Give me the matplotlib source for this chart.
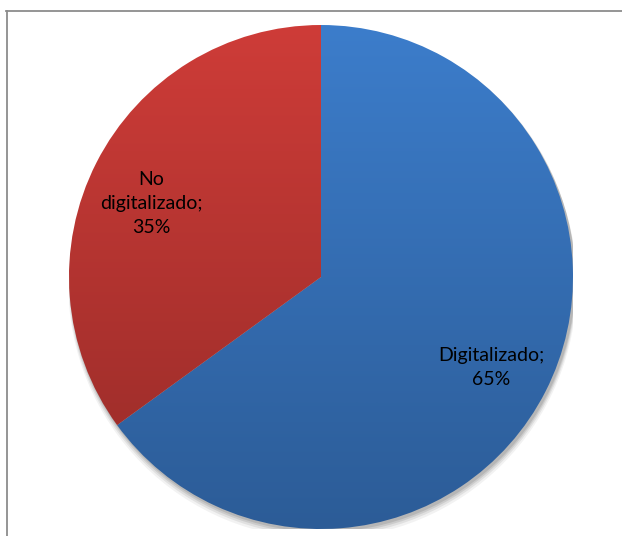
import numpy as np
import matplotlib
matplotlib.use("Agg")
import matplotlib.pyplot as plt
from matplotlib.patches import Circle
from matplotlib.colors import LinearSegmentedColormap
from matplotlib.lines import Line2D

categories = ["Digitalizado", "No digitalizado"]
values = [65, 35]
label_texts = ["Digitalizado;\n65%", "No\ndigitalizado;\n35%"]
top_colors = ["#3C7DCB", "#CE3C38"]
bottom_colors = ["#2C5C97", "#962B28"]

plt.rcParams['font.family'] = ['Lato', 'DejaVu Sans']

W, H = 622, 536
fig = plt.figure(figsize=(W / 100, H / 100), dpi=100)
fig.patch.set_facecolor("white")

# border lines (top and left only)
fig.add_artist(Line2D([6 / W, 1], [1 - 10.5 / H, 1 - 10.5 / H], color="#8C8C8C", lw=1.3))
fig.add_artist(Line2D([6.5 / W, 6.5 / W], [0, 1 - 10.5 / H], color="#8C8C8C", lw=1.3))

cx, cy, r = 321, 277, 252
ax = fig.add_axes([(cx - r) / W, (H - cy - r) / H, 2 * r / W, 2 * r / H])
ax.set_xlim(-1, 1)
ax.set_ylim(-1, 1)
ax.set_aspect("equal")
ax.axis("off")

# soft shadow
for off, a in [(0.030, 0.05), (0.022, 0.07), (0.015, 0.09), (0.009, 0.10)]:
    ax.add_patch(Circle((0.006, -off), 1.0 + off * 0.3, color="black", alpha=a, lw=0, zorder=0))

wedges, texts = ax.pie(values, startangle=90, counterclock=False, radius=1.0,
                       labels=label_texts, labeldistance=0.76,
                       wedgeprops=dict(linewidth=0),
                       textprops=dict(fontsize=14, ha="center", va="center", color="black",
                                      linespacing=1.5))

# label placement (distance from centre, angle offset in degrees)
label_place = [(0.765, -1.0), (0.735, 3.5)]
for w, t, (d, da) in zip(wedges, texts, label_place):
    ang = np.deg2rad((w.theta1 + w.theta2) / 2 + da)
    t.set_position((d * np.cos(ang), d * np.sin(ang)))
    t.set_zorder(5)

grad = np.linspace(0, 1, 256).reshape(-1, 1)
for w, ct, cb in zip(wedges, top_colors, bottom_colors):
    w.set_facecolor("none")
    cmap = LinearSegmentedColormap.from_list("g", [ct, cb])
    im = ax.imshow(grad, extent=[-1, 1, -1, 1], origin="upper", cmap=cmap,
                   aspect="auto", zorder=1, interpolation="bilinear")
    im.set_clip_path(w)
ax.set_xlim(-1, 1)
ax.set_ylim(-1, 1)

fig.savefig("out.png", dpi=100)
